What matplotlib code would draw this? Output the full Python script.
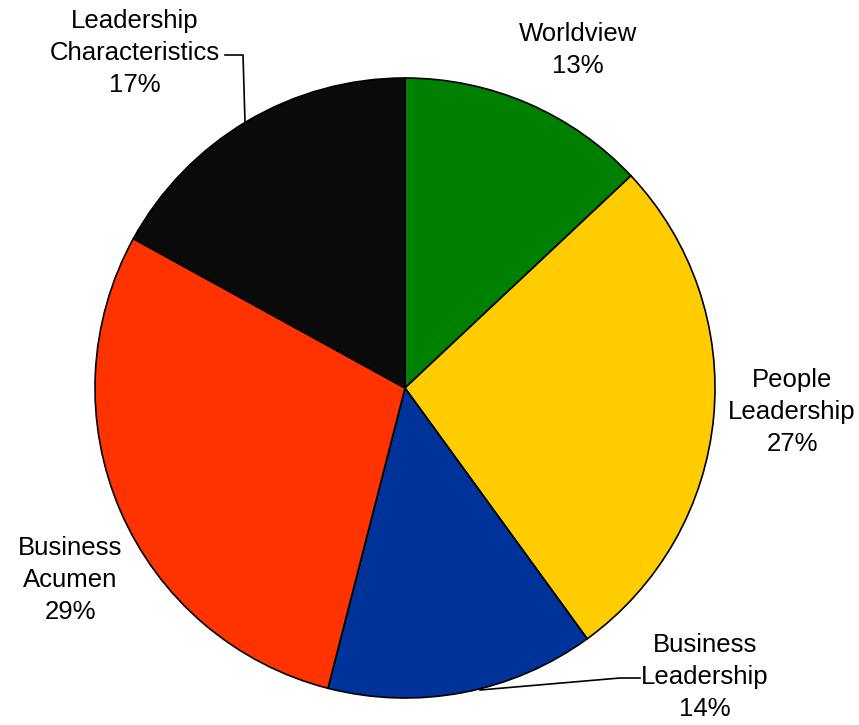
import matplotlib
matplotlib.use("Agg")
import matplotlib.pyplot as plt

categories = ["Worldview", "People\nLeadership", "Business\nLeadership",
              "Business\nAcumen", "Leadership\nCharacteristics"]
shares = [13, 27, 14, 29, 17]
colors = ["#008000", "#FFCC00", "#003399", "#FF3300", "#0A0A0A"]

W, H = 859, 725
fig = plt.figure(figsize=(W / 100, H / 100), dpi=100)
ax = fig.add_axes([0, 0, 1, 1])

cx, cy, r = 405, H - 388, 310
ax.pie(shares, colors=colors, startangle=90, counterclock=False,
       center=(cx, cy), radius=r, frame=True,
       wedgeprops=dict(edgecolor="black", linewidth=1.2))
ax.set_xlim(0, W)
ax.set_ylim(0, H)
ax.set_aspect("equal")
ax.axis("off")

# label anchor positions (pixel coordinates from top-left)
label_pos = [(578, 50), (792, 412), (705, 677), (70, 580), (135, 53)]
for name, val, (px, py) in zip(categories, shares, label_pos):
    ax.text(px, H - py, f"{name}\n{val}%", ha="center", va="center",
            fontsize=18.5, family="Liberation Sans", linespacing=1.42,
            color="black")

# leader lines
ax.plot([480, 620, 640], [H - 690, H - 678, H - 678], color="black", lw=1.2)
ax.plot([245, 243, 225], [H - 122, H - 55, H - 55], color="black", lw=1.2)

fig.savefig("out.png", dpi=100)
